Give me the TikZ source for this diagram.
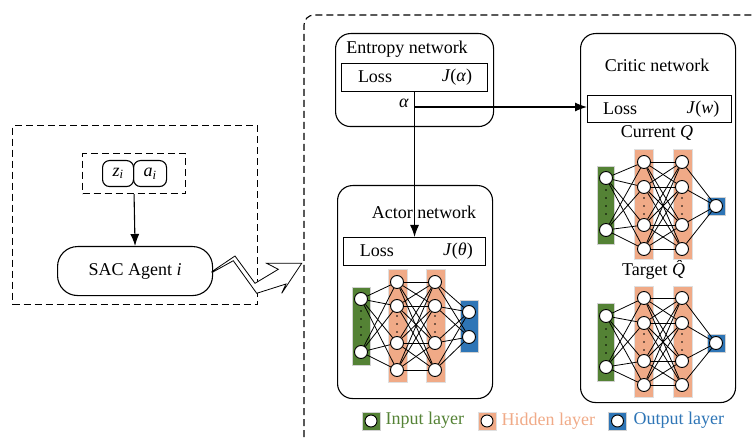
\documentclass[tikz,border=0pt]{standalone}
\usepackage{fontspec}
\setmainfont{Liberation Serif}
\usetikzlibrary{arrows.meta}
\definecolor{ingreen}{RGB}{84,130,53}
\definecolor{hidsal}{RGB}{240,170,135}
\definecolor{outblue}{RGB}{46,117,182}
\newcommand{\neurons}[3]{\foreach \yy [count=\k] in {#3} {\node[neuron] (#1\k) at (#2,\yy) {};}}
\newcommand{\fullconn}[4]{\foreach \i in {1,...,#2} {\foreach \j in {1,...,#4} {\draw[link] (#1\i) -- (#3\j);}}}
\newcommand{\vdotsat}[2]{\foreach \yy in {#2} {\fill (#1,\yy) circle (0.9pt);}}
\begin{document}
\begin{tikzpicture}[x=1pt,y=-1pt,line width=1.1pt,
  txt/.style={font=\fontsize{18}{21}\selectfont, inner sep=0pt},
  dbox/.style={draw, dash pattern=on 7pt off 4pt},
  rbox/.style={draw, rectangle, rounded corners=15pt, inner sep=0pt, anchor=north west},
  sqbox/.style={draw, rectangle, inner sep=0pt, anchor=north west},
  neuron/.style={circle, draw, fill=white, minimum size=13pt, inner sep=0pt, line width=0.9pt},
  link/.style={line width=0.8pt},
  arr/.style={-{Latex[length=12pt,width=9pt]}},
  inlayer/.style={fill=ingreen, draw=gray!35, line width=0.5pt},
  hidlayer/.style={fill=hidsal, draw=gray!25, line width=0.5pt},
  outlayer/.style={fill=outblue, draw=gray!35, line width=0.5pt}]
\useasboundingbox (0,0) rectangle (756,441);

% ---------- left agent ----------
\node[dbox, rectangle, inner sep=0pt, anchor=north west, minimum width=245, minimum height=179] (agentbox) at (12,125) {};
\node[dbox, rectangle, inner sep=0pt, anchor=north west, minimum width=103, minimum height=40] (obsbox) at (82,153) {};
\node[rbox, rounded corners=7pt, minimum width=31, minimum height=26, txt] (zbox) at (102,160) {};
\node[txt] at (zbox) {\textit{z}\textsubscript{\textit{i}}};
\node[rbox, rounded corners=7pt, minimum width=33, minimum height=26, txt] (abox) at (133,160) {};
\node[txt] at (abox) {\textit{a}\textsubscript{\textit{i}}};
\node[rbox, rounded corners=20pt, minimum width=155, minimum height=49] (sac) at (57,246) {};
\node[txt] at (sac) {SAC Agent \textit{i}};
\draw[arr] (obsbox.south) -- (sac.north);

% zigzag arrow
\draw[line width=0.8pt, fill=white, line join=miter]
  (211.7,271.7) -- (235,256) -- (255,283.3) -- (278.3,269.3) -- (266.7,263.3)
  -- (301.7,263.3) -- (281.7,293.3) -- (286,284) -- (256.7,293.3) -- (233.3,260.7)
  -- (211.7,272.7);

% ---------- big dashed frame ----------
\draw[dbox, rounded corners=10pt] (304,437) -- (304,15) -- (753,15);

% ---------- entropy network ----------
\node[rbox, minimum width=158, minimum height=93] (ent) at (335,33) {};
\node[txt] (enttitle) at (407,49) {Entropy network};
\node[sqbox, minimum width=146, minimum height=28] (entloss) at (341,63) {};
\node[txt] (entlosst) at (375,77) {Loss};
\node[txt] (entj) at (457,77) {\textit{J}(\textit{α})};
\node[txt] (alpha) at (404,103) {\textit{α}};

% ---------- actor network ----------
\node[rbox, minimum width=155, minimum height=213] (act) at (337,185) {};
\node[txt] (acttitle) at (424,212) {Actor network};
\node[sqbox, minimum width=142, minimum height=28] (actloss) at (343,237) {};
\node[txt] (actlosst) at (377,251) {Loss};
\node[txt] (actj) at (458,251) {\textit{J}(\textit{θ})};

% ---------- critic network ----------
\node[rbox, minimum width=155, minimum height=369] (crit) at (580,33) {};
\node[txt] (crittitle) at (657,65) {Critic network};
\node[sqbox, minimum width=144, minimum height=27] (critloss) at (587,95) {};
\node[txt] (critlosst) at (620,109) {Loss};
\node[txt] (critj) at (703,109) {\textit{J}(\textit{w})};
\node[txt] (curq) at (657,133) {Current \textit{Q}};
\node[txt] (tarq) at (657,270) {Target \textit{Q̂}};

% connectors
\draw[arr] (entloss.south) -- (actloss.north);
\coordinate (abranch) at (entloss.south |- 0,107);
\draw[arr] (abranch) -- (abranch -| critloss.west);

% ---------- actor MLP ----------
\draw[inlayer] (352,287) rectangle (370,365);
\draw[hidlayer] (388,269) rectangle (407,382);
\draw[hidlayer] (426,269) rectangle (445,382);
\draw[outlayer] (460,300) rectangle (478,352);
\neurons{ai}{361}{299,352}
\neurons{ah}{397}{282,306,343,370}
\neurons{ag}{435}{282,306,343,370}
\neurons{ao}{469}{312,337}
\fullconn{ai}{2}{ah}{4}
\fullconn{ah}{4}{ag}{4}
\fullconn{ag}{4}{ao}{2}
\vdotsat{361}{311,319,327,335}
\vdotsat{397}{316,324,332}
\vdotsat{435}{316,324,332}

% ---------- critic current MLP ----------
\draw[inlayer] (597,166) rectangle (614,244);
\draw[hidlayer] (634,149) rectangle (653,259);
\draw[hidlayer] (673,149) rectangle (692,259);
\draw[outlayer] (707,197) rectangle (725,215);
\neurons{ci}{606}{178,230}
\neurons{ch}{644}{162,187,225,249}
\neurons{cg}{682}{162,187,225,249}
\neurons{co}{716}{206}
\fullconn{ci}{2}{ch}{4}
\fullconn{ch}{4}{cg}{4}
\fullconn{cg}{4}{co}{1}
\vdotsat{606}{190,198,206,214}
\vdotsat{644}{198,206,214}
\vdotsat{682}{198,206,214}

% ---------- critic target MLP ----------
\draw[inlayer] (597,303) rectangle (614,381);
\draw[hidlayer] (634,286) rectangle (653,397);
\draw[hidlayer] (673,286) rectangle (692,397);
\draw[outlayer] (707,334) rectangle (725,352);
\neurons{ti}{606}{316,367}
\neurons{th}{644}{298,323,361,385}
\neurons{tg}{682}{298,323,361,385}
\neurons{to}{716}{343}
\fullconn{ti}{2}{th}{4}
\fullconn{th}{4}{tg}{4}
\fullconn{tg}{4}{to}{1}
\vdotsat{606}{329,337,345,353}
\vdotsat{644}{334,342,350}
\vdotsat{682}{334,342,350}

% ---------- legend ----------
\node[inlayer, rectangle, minimum size=18pt, inner sep=0pt] (lgin) at (371,421) {};
\node[neuron, minimum size=12pt] (lgin-n) at (lgin) {};
\node[txt, anchor=west, text=ingreen] (lgin-t) at (385,420) {Input layer};
\node[hidlayer, rectangle, minimum size=18pt, inner sep=0pt] (lghid) at (487,421) {};
\node[neuron, minimum size=12pt] (lghid-n) at (lghid) {};
\node[txt, anchor=west, text=hidsal] (lghid-t) at (501,421) {Hidden layer};
\node[outlayer, rectangle, minimum size=18pt, inner sep=0pt] (lgout) at (617.5,421) {};
\node[neuron, minimum size=12pt] (lgout-n) at (lgout) {};
\node[txt, anchor=west, text=outblue] (lgout-t) at (633,420) {Output layer};
\end{tikzpicture}
\end{document}
